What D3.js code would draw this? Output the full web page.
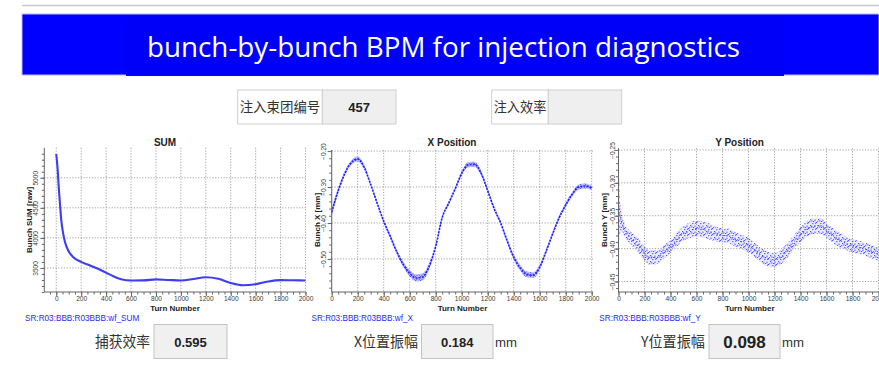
<!DOCTYPE html>
<head>
<meta charset="utf-8">
<script src="https://d3js.org/d3.v7.min.js"></script>
<style>
  body { margin: 0; background: #fff; }
  svg { display: block; font-family: "Liberation Sans", "DejaVu Sans", sans-serif; }
</style>
</head>
<body>
<svg width="879" height="366"></svg>
<script>
// ---- data ----
var sumTurns = [0, 10, 20, 30, 40, 55, 70, 95, 135, 200, 280, 360, 440, 520, 600, 700, 800, 900, 1000, 1100, 1200, 1300, 1400, 1500, 1600, 1700, 1800, 1900, 2000];
var sumValues = [5395, 5170, 4840, 4560, 4300, 4080, 3930, 3795, 3683, 3600, 3533, 3462, 3380, 3312, 3292, 3293, 3310, 3300, 3292, 3315, 3345, 3320, 3250, 3212, 3230, 3275, 3298, 3295, 3292];

var xTurns = [0, 50, 100, 150, 200, 250, 300, 350, 400, 450, 500, 550, 600, 650, 700, 750, 800, 850, 900, 950, 1000, 1050, 1100, 1150, 1200, 1250, 1300, 1350, 1400, 1450, 1500, 1550, 1600, 1650, 1700, 1750, 1800, 1850, 1900, 1950, 2000];
var xValues = [-0.370, -0.310, -0.263, -0.232, -0.222, -0.245, -0.293, -0.345, -0.395, -0.437, -0.480, -0.515, -0.540, -0.553, -0.550, -0.520, -0.465, -0.385, -0.345, -0.305, -0.262, -0.238, -0.237, -0.262, -0.310, -0.360, -0.400, -0.450, -0.495, -0.525, -0.543, -0.545, -0.523, -0.478, -0.430, -0.385, -0.350, -0.320, -0.300, -0.297, -0.302];
var xSpread = [0.010, 0.007, 0.006, 0.006, 0.007, 0.006, 0.005, 0.005, 0.005, 0.006, 0.006, 0.007, 0.009, 0.010, 0.010, 0.008, 0.006, 0.005, 0.005, 0.005, 0.006, 0.007, 0.007, 0.006, 0.005, 0.005, 0.005, 0.006, 0.007, 0.008, 0.008, 0.008, 0.007, 0.006, 0.005, 0.005, 0.006, 0.006, 0.007, 0.007, 0.006];

var yTurns = [0, 10, 25, 50, 100, 150, 200, 250, 300, 350, 400, 450, 500, 550, 600, 650, 700, 750, 800, 850, 900, 950, 1000, 1050, 1100, 1150, 1200, 1250, 1300, 1350, 1400, 1450, 1500, 1550, 1600, 1650, 1700, 1750, 1800, 1850, 1900, 1950, 2000];
var yValues = [-0.330, -0.348, -0.360, -0.373, -0.385, -0.394, -0.408, -0.414, -0.413, -0.405, -0.397, -0.386, -0.377, -0.372, -0.370, -0.371, -0.374, -0.378, -0.380, -0.381, -0.386, -0.390, -0.395, -0.403, -0.411, -0.416, -0.418, -0.413, -0.403, -0.390, -0.379, -0.370, -0.366, -0.365, -0.372, -0.380, -0.387, -0.392, -0.396, -0.398, -0.401, -0.405, -0.409];
var ySpread = [0.070, 0.030, 0.014, 0.010, 0.010, 0.011, 0.011, 0.011, 0.010, 0.010, 0.010, 0.011, 0.011, 0.012, 0.012, 0.012, 0.012, 0.011, 0.011, 0.011, 0.011, 0.011, 0.011, 0.011, 0.011, 0.011, 0.011, 0.011, 0.011, 0.011, 0.011, 0.012, 0.012, 0.012, 0.011, 0.011, 0.011, 0.010, 0.010, 0.010, 0.010, 0.010, 0.010];

var sumTicks = [3500, 4000, 4500, 5000];
var xPosTicks = [-0.50, -0.40, -0.30, -0.20];
var yPosTicks = [-0.45, -0.40, -0.35, -0.30, -0.25];
var turnTicks = [0, 200, 400, 600, 800, 1000, 1200, 1400, 1600, 1800, 2000];

var topFields = [
  {label: "注入束团编号", value: "457"},
  {label: "注入效率", value: ""}
];
var bottomFields = [
  {label: "捕获效率", value: "0.595", unit: ""},
  {label: "X位置振幅", value: "0.184", unit: "mm"},
  {label: "Y位置振幅", value: "0.098", unit: "mm"}
];
var pvNames = ["SR:R03:BBB:R03BBB:wf_SUM", "SR:R03:BBB:R03BBB:wf_X", "SR:R03:BBB:R03BBB:wf_Y"];

var svg = d3.select("svg");

// dot textures for the scatter bands
var defs = svg.append("defs");
function dotPattern(id, w, h, pts, size, op) {
  var p = defs.append("pattern").attr("id", id)
      .attr("patternUnits", "userSpaceOnUse").attr("width", w).attr("height", h);
  pts.forEach(function(q) {
    p.append("rect").attr("x", q[0]).attr("y", q[1]).attr("width", size).attr("height", size)
     .attr("fill", "#3a3aff").attr("opacity", op);
  });
}
dotPattern("dotsX", 5, 4, [[0, 0], [2.6, 1.4], [1.2, 2.8], [3.8, 3.2]], 1.1, 0.75);
dotPattern("dotsY", 8, 6, [[0, 0], [4.2, 1.0], [2.0, 3.0], [6.4, 3.6], [5.0, 5.0], [1.0, 5.2], [7.0, 0.6], [3.2, 4.4]], 1.2, 0.85);

// header
svg.append("line").attr("x1", 22).attr("x2", 879).attr("y1", 5.5).attr("y2", 5.5)
   .attr("stroke", "#c8c8c8").attr("stroke-width", 1.5);
svg.append("rect").attr("x", 22).attr("y", 14).attr("width", 857).attr("height", 61)
   .attr("fill", "#0000fe").attr("stroke", "#b8b8ff").attr("stroke-width", 1);
svg.append("rect").attr("x", 126).attr("y", 17).attr("width", 658).attr("height", 59)
   .attr("fill", "#0000f8");
svg.append("text").attr("x", 147).attr("y", 57)
   .attr("font-family", "'Open Sans', 'Noto Sans', sans-serif").attr("font-size", 27)
   .attr("fill", "#fff").attr("textLength", 593).attr("lengthAdjust", "spacingAndGlyphs")
   .text("bunch-by-bunch BPM for injection diagnostics");

// top input boxes
var topBoxes = [{x: 237.7, lw: 84.6, vw: 73.7}, {x: 491.7, lw: 56.6, vw: 73.4}];
topFields.forEach(function(f, i) {
  var b = topBoxes[i];
  svg.append("rect").attr("x", b.x).attr("y", 90).attr("width", b.lw).attr("height", 34)
     .attr("fill", "#fff").attr("stroke", "#cfcfcf");
  svg.append("rect").attr("x", b.x + b.lw).attr("y", 90).attr("width", b.vw).attr("height", 34)
     .attr("fill", "#efefef").attr("stroke", "#cfcfcf");
  svg.append("text").attr("x", b.x + 2).attr("y", 112)
     .attr("font-family", "'Noto Sans CJK SC', sans-serif").attr("font-size", 13.5)
     .attr("fill", "#333").attr("textLength", b.lw - 4).attr("lengthAdjust", "spacingAndGlyphs")
     .text(f.label);
  svg.append("text").attr("x", b.x + b.lw + b.vw / 2).attr("y", 112)
     .attr("text-anchor", "middle").attr("font-weight", "bold").attr("font-size", 13)
     .attr("fill", "#222").text(f.value);
});

// ---- panels ----
function drawPanel(cfg) {
  var x = d3.scaleLinear().domain(cfg.xDomain).range(cfg.xRange);
  var y = d3.scaleLinear().domain(cfg.yDomain).range([292, cfg.top]);
  var g = svg.append("g");

  // grid
  g.selectAll(".vg").data(turnTicks).enter().append("line")
    .attr("x1", function(d) { return x(d); }).attr("x2", function(d) { return x(d); })
    .attr("y1", cfg.top).attr("y2", 292)
    .attr("stroke", "#8a8a8a").attr("stroke-width", 0.8).attr("stroke-dasharray", "1.2,1.6");
  g.selectAll(".hg").data(cfg.yTicks).enter().append("line")
    .attr("x1", cfg.xRange[0]).attr("x2", cfg.xRange[1])
    .attr("y1", function(d) { return y(d); }).attr("y2", function(d) { return y(d); })
    .attr("stroke", "#8a8a8a").attr("stroke-width", 0.8).attr("stroke-dasharray", "1.2,1.6");

  // data
  if (cfg.spread) {
    var band = d3.area()
      .x(function(d, i) { return x(cfg.turns[i]); })
      .y0(function(d, i) { return y(d - cfg.spread[i]); })
      .y1(function(d, i) { return y(d + cfg.spread[i]); })
      .curve(d3.curveMonotoneX);
    g.append("path").datum(cfg.values).attr("d", band)
      .attr("fill", "#7070ff").attr("opacity", cfg.bandOpacity);
    g.append("path").datum(cfg.values).attr("d", band).attr("fill", "url(#" + cfg.pattern + ")");
  }
  var line = d3.line()
    .x(function(d, i) { return x(cfg.turns[i]); })
    .y(function(d) { return y(d); })
    .curve(d3.curveMonotoneX);
  g.append("path").datum(cfg.values).attr("d", line)
    .attr("fill", "none").attr("stroke", cfg.lineColor)
    .attr("stroke-width", cfg.lineWidth)
    .attr("stroke-dasharray", cfg.dash || null)
    .attr("opacity", cfg.lineOpacity || 1);

  // axes
  var minorX = d3.range(Math.ceil(cfg.xDomain[0] / 50) * 50, cfg.xDomain[1] + 1, 50);
  g.append("g").attr("transform", "translate(0,292)")
    .call(d3.axisBottom(x).tickValues(minorX).tickSize(2.5).tickFormat(""))
    .call(function(a) { a.select(".domain").remove(); a.selectAll("line").attr("stroke", "#666"); });
  var ax = g.append("g").attr("transform", "translate(0,292)")
    .call(d3.axisBottom(x).tickValues(turnTicks).tickSize(4).tickPadding(0.8).tickFormat(d3.format("d")));
  ax.select(".domain").attr("d", "M" + cfg.xRange[0] + ",0H" + cfg.xRange[1]).attr("stroke", "#666");
  ax.selectAll("line").attr("stroke", "#666");
  ax.selectAll("text").attr("font-size", 6.6).attr("fill", "#3a3a3a")
    .attr("font-family", "'Liberation Sans', sans-serif");

  var minorY = d3.range(cfg.yDomain[0], cfg.yDomain[1], cfg.yMinor)
    .map(function(v) { return Math.round(v / cfg.yMinor) * cfg.yMinor; })
    .filter(function(v) { return v >= cfg.yDomain[0] && v <= cfg.yDomain[1]; });
  g.append("g").attr("transform", "translate(" + cfg.xRange[0] + ",0)")
    .call(d3.axisLeft(y).tickValues(minorY).tickSize(2.5).tickFormat(""))
    .call(function(a) { a.select(".domain").remove(); a.selectAll("line").attr("stroke", "#666"); });
  var ay = g.append("g").attr("transform", "translate(" + cfg.xRange[0] + ",0)")
    .call(d3.axisLeft(y).tickValues(cfg.yTicks).tickSize(4).tickFormat(cfg.yFormat));
  ay.select(".domain").attr("d", "M0," + cfg.top + "V292").attr("stroke", "#666");
  ay.selectAll("line").attr("stroke", "#666");
  ay.selectAll("text")
    .attr("transform", "rotate(-90)").attr("x", 0).attr("y", -cfg.tickOff).attr("dy", 0)
    .attr("text-anchor", "middle").attr("font-size", 6.6).attr("fill", "#3a3a3a")
    .attr("font-family", "'Liberation Sans', sans-serif");

  // titles
  g.append("text").attr("x", cfg.titleX).attr("y", 145.5).attr("text-anchor", "middle")
    .attr("font-weight", "bold").attr("font-size", 10).attr("fill", "#222").text(cfg.title);
  g.append("text").attr("x", cfg.turnX).attr("y", 311).attr("text-anchor", "middle")
    .attr("font-weight", "bold").attr("font-size", 8).attr("fill", "#222").text("Turn Number");
  g.append("text").attr("transform", "translate(" + cfg.yLabelX + ",220) rotate(-90)")
    .attr("text-anchor", "middle").attr("font-weight", "bold").attr("font-size", 8)
    .attr("fill", "#222").text(cfg.yLabel);
  g.append("text").attr("x", cfg.pvX).attr("y", 321).attr("font-size", 8.2)
    .attr("fill", "#2828ff").text(cfg.pv);
}

drawPanel({
  title: "SUM", titleX: 165, turnX: 175, yLabel: "Bunch SUM [raw]", yLabelX: 31.5,
  xDomain: [-96, 2000], xRange: [44.3, 305.5], yDomain: [3100, 5500], top: 147.7,
  yTicks: sumTicks, yMinor: 100, yFormat: d3.format("d"), tickOff: 6.3,
  turns: sumTurns, values: sumValues, lineColor: "#3d3df2", lineWidth: 2.1,
  pv: pvNames[0], pvX: 25
});
drawPanel({
  title: "X Position", titleX: 452, turnX: 462.5, yLabel: "Bunch X [mm]", yLabelX: 319.5,
  xDomain: [0, 2010], xRange: [331.7, 593], yDomain: [-0.592, -0.197], top: 150,
  yTicks: xPosTicks, yMinor: 0.02, yFormat: d3.format(".2f"), tickOff: 5.4,
  turns: xTurns, values: xValues, spread: xSpread, bandOpacity: 0.45, pattern: "dotsX",
  lineColor: "#1f1fff", lineWidth: 1.6, dash: "2,1.2",
  pv: pvNames[1], pvX: 311.5
});
drawPanel({
  title: "Y Position", titleX: 739.5, turnX: 749.7, yLabel: "Bunch Y [mm]", yLabelX: 606.5,
  xDomain: [0, 2010], xRange: [618.5, 879.8], yDomain: [-0.466, -0.2475], top: 148.3,
  yTicks: yPosTicks, yMinor: 0.01, yFormat: d3.format(".2f"), tickOff: 4,
  turns: yTurns, values: yValues, spread: ySpread, bandOpacity: 0.14, pattern: "dotsY",
  lineColor: "#3030ff", lineWidth: 1.2, dash: "1.2,2", lineOpacity: 0.75,
  pv: pvNames[2], pvX: 599.3
});

// bottom result boxes
var bottomBoxes = [
  {lx: 95, lw: 55, bx: 154, bw: 73, fs: 13},
  {lx: 354, lw: 64, bx: 421.5, bw: 71.5, fs: 13},
  {lx: 641, lw: 64, bx: 709, bw: 71, fs: 17}
];
bottomFields.forEach(function(f, i) {
  var b = bottomBoxes[i];
  svg.append("text").attr("x", b.lx).attr("y", 347)
     .attr("font-family", "'Noto Sans CJK SC', sans-serif").attr("font-size", 14.5)
     .attr("fill", "#333").attr("textLength", b.lw).attr("lengthAdjust", "spacingAndGlyphs")
     .text(f.label);
  svg.append("rect").attr("x", b.bx).attr("y", 324.5).attr("width", b.bw).attr("height", 34)
     .attr("fill", "#f0f0f0").attr("stroke", "#c4c4c4");
  svg.append("text").attr("x", b.bx + b.bw / 2).attr("y", 342).attr("dy", "0.35em")
     .attr("text-anchor", "middle").attr("font-weight", "bold").attr("font-size", b.fs)
     .attr("fill", "#222").text(f.value);
  if (f.unit) {
    svg.append("text").attr("x", b.bx + b.bw + 2).attr("y", 347)
       .attr("font-size", 13.5).attr("fill", "#333")
       .attr("textLength", 22).attr("lengthAdjust", "spacingAndGlyphs").text(f.unit);
  }
});
</script>
</body>
